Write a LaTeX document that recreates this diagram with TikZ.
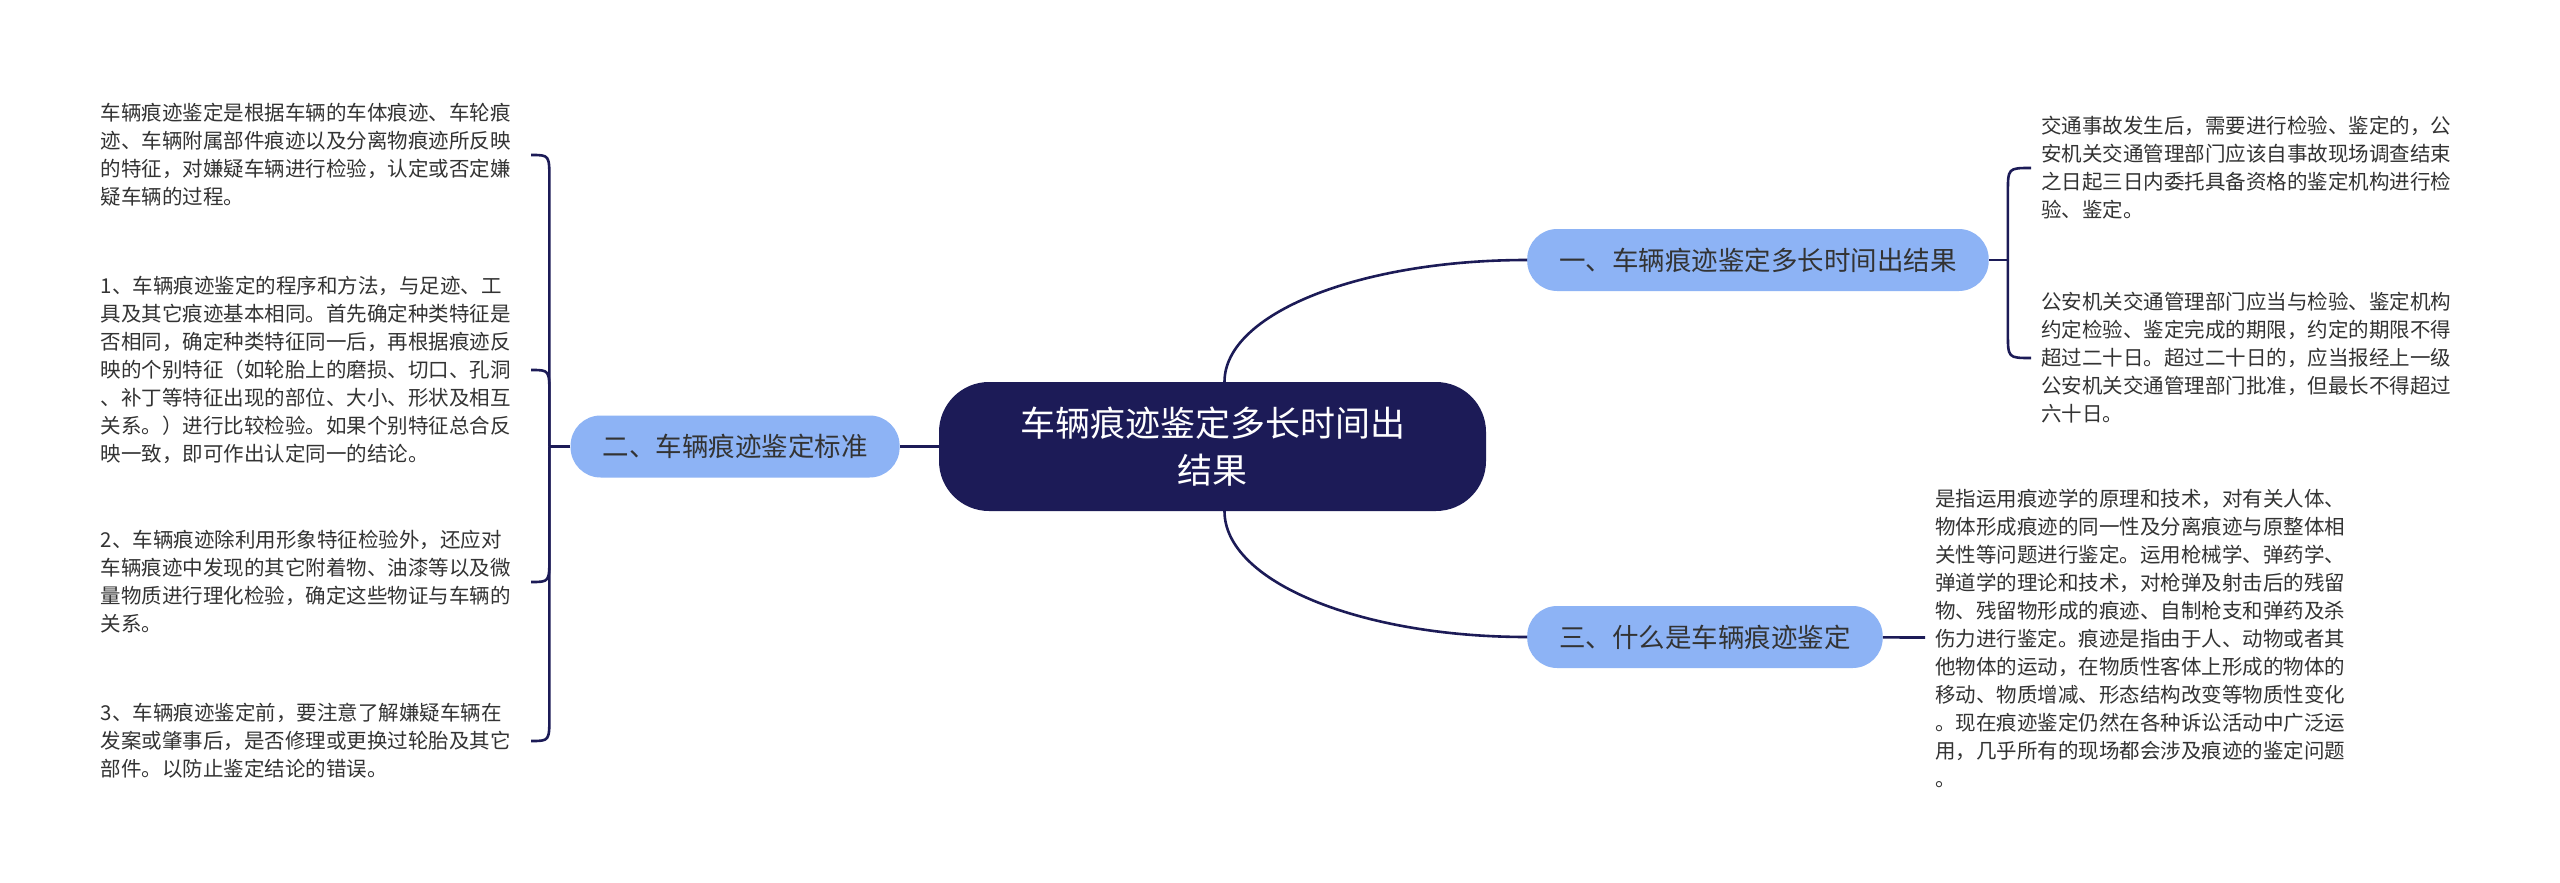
\documentclass[tikz,border=0pt]{standalone}
\usepackage{fontspec}
\newfontfamily\cjk{Noto Sans CJK SC}
\usetikzlibrary{positioning}
\definecolor{mapnavy}{HTML}{1C1B57}
\definecolor{mapblue}{HTML}{8DB3F5}
\definecolor{mapink}{HTML}{333333}

\begin{document}
\begin{tikzpicture}[x=1pt, y=1pt,
  hub/.style={fill=mapnavy, text=white, rounded corners=50pt, align=center,
              minimum width=547pt, minimum height=129pt,
              font=\cjk\fontsize{35}{47}\selectfont},
  branch/.style={fill=mapblue, text=mapink, rounded corners=30pt,
              minimum height=62pt, inner xsep=32pt,
              font=\cjk\fontsize{26.5}{30}\selectfont},
  note/.style={text=mapink, text width=420pt, align=left,
              inner xsep=10pt, inner ysep=0pt,
              font=\cjk\fontsize{20.5}{28}\selectfont},
  link/.style={draw=mapnavy, line width=2.6pt}]
\fill[white] (0,0) rectangle (2560,-883);
\useasboundingbox (0,0) rectangle (2560,-883);
\node[hub] (root) at (1212.5,-446.5) {车辆痕迹鉴定多长时间出\\结果};
\node[branch, left=39pt of root] (qstd) {二、车辆痕迹鉴定标准};
\node[branch, anchor=west] (qtime) at (1527,-260) {一、车辆痕迹鉴定多长时间出结果};
\node[branch, anchor=west] (qwhat) at (1527,-637) {三、什么是车辆痕迹鉴定};
\node[note, anchor=west] (time1) at (2031,-168)
  {交通事故发生后，需要进行检验、鉴定的，公\\
   安机关交通管理部门应该自事故现场调查结束\\
   之日起三日内委托具备资格的鉴定机构进行检\\
   验、鉴定。};
\node[note, anchor=west] (time2) at (2031,-358)
  {公安机关交通管理部门应当与检验、鉴定机构\\
   约定检验、鉴定完成的期限，约定的期限不得\\
   超过二十日。超过二十日的，应当报经上一级\\
   公安机关交通管理部门批准，但最长不得超过\\
   六十日。};
\node[note, anchor=west] (what1) at (1925,-638)
  {是指运用痕迹学的原理和技术，对有关人体、\\
   物体形成痕迹的同一性及分离痕迹与原整体相\\
   关性等问题进行鉴定。运用枪械学、弹药学、\\
   弹道学的理论和技术，对枪弹及射击后的残留\\
   物、残留物形成的痕迹、自制枪支和弹药及杀\\
   伤力进行鉴定。痕迹是指由于人、动物或者其\\
   他物体的运动，在物质性客体上形成的物体的\\
   移动、物质增减、形态结构改变等物质性变化\\
   。现在痕迹鉴定仍然在各种诉讼活动中广泛运\\
   用，几乎所有的现场都会涉及痕迹的鉴定问题\\
   。};
\node[note, anchor=east] (std1) at (531,-155)
  {车辆痕迹鉴定是根据车辆的车体痕迹、车轮痕\\
   迹、车辆附属部件痕迹以及分离物痕迹所反映\\
   的特征，对嫌疑车辆进行检验，认定或否定嫌\\
   疑车辆的过程。};
\node[note, anchor=east] (std2) at (531,-370)
  {1、车辆痕迹鉴定的程序和方法，与足迹、工\\
   具及其它痕迹基本相同。首先确定种类特征是\\
   否相同，确定种类特征同一后，再根据痕迹反\\
   映的个别特征（如轮胎上的磨损、切口、孔洞\\
   、补丁等特征出现的部位、大小、形状及相互\\
   关系。）进行比较检验。如果个别特征总合反\\
   映一致，即可作出认定同一的结论。};
\node[note, anchor=east] (std3) at (531,-582)
  {2、车辆痕迹除利用形象特征检验外，还应对\\
   车辆痕迹中发现的其它附着物、油漆等以及微\\
   量物质进行理化检验，确定这些物证与车辆的\\
   关系。};
\node[note, anchor=east] (std4) at (531,-741)
  {3、车辆痕迹鉴定前，要注意了解嫌疑车辆在\\
   发案或肇事后，是否修理或更换过轮胎及其它\\
   部件。以防止鉴定结论的错误。};
\coordinate[left=21pt of qstd] (stdj);
\coordinate[right=19pt of qtime] (timej);
\draw[link] ([xshift=12pt]root.north) .. controls +(0,68) and +(-168,0) .. (qtime.west);
\draw[link] ([xshift=12pt]root.south) .. controls +(0,-70) and +(-168,0) .. (qwhat.west);
\draw[link] (root) -- (qstd);
\draw[link] (qwhat) -- (what1);
\draw[link] (qtime) -- (timej);
\draw[link] (timej) -- ([yshift=-25pt]timej |- time1.west) .. controls (timej |- time1.west) .. (time1.west);
\draw[link] (timej) -- ([yshift=25pt]timej |- time2.west) .. controls (timej |- time2.west) .. (time2.west);
\draw[link] (qstd) -- (stdj);
\draw[link] (stdj) -- ([yshift=-25pt]stdj |- std1.east) .. controls (stdj |- std1.east) .. (std1.east);
\draw[link] (stdj) -- ([yshift=-25pt]stdj |- std2.east) .. controls (stdj |- std2.east) .. (std2.east);
\draw[link] (stdj) -- ([yshift=25pt]stdj |- std3.east) .. controls (stdj |- std3.east) .. (std3.east);
\draw[link] (stdj) -- ([yshift=25pt]stdj |- std4.east) .. controls (stdj |- std4.east) .. (std4.east);
\end{tikzpicture}
\end{document}
